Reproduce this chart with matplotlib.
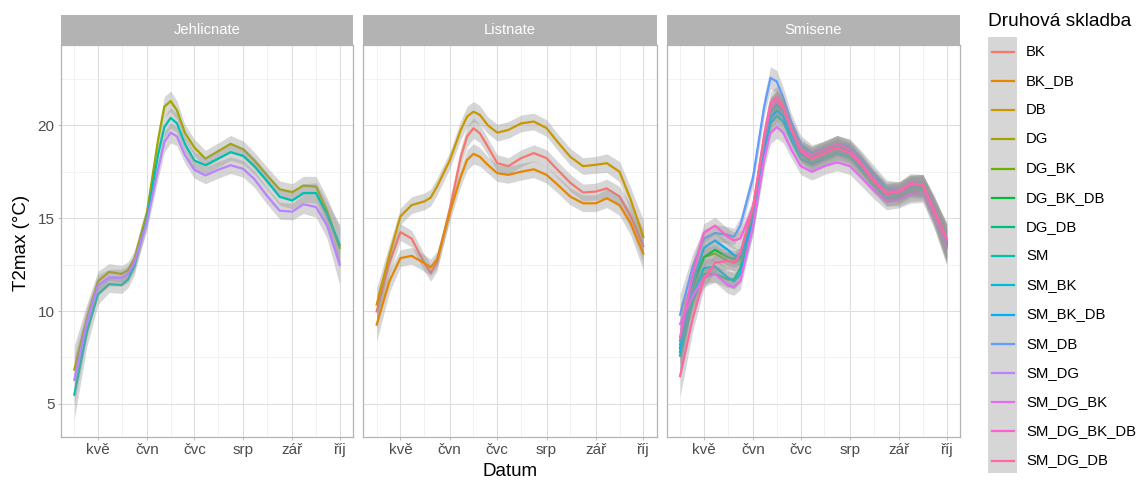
import matplotlib
matplotlib.use("Agg")
import matplotlib.pyplot as plt
import pandas as pd
from matplotlib.lines import Line2D
from matplotlib.patches import Rectangle

plt.rcParams['font.family'] = ['Liberation Sans', 'DejaVu Sans']

# ---------------- data ----------------
dates = ["2021-04-16", "2021-04-24", "2021-05-01", "2021-05-08", "2021-05-16", "2021-05-20",
         "2021-05-24", "2021-06-01", "2021-06-08", "2021-06-12", "2021-06-16", "2021-06-20",
         "2021-06-25", "2021-07-01", "2021-07-08", "2021-07-16", "2021-07-24", "2021-08-01",
         "2021-08-08", "2021-08-16", "2021-08-24", "2021-09-01", "2021-09-08", "2021-09-16",
         "2021-09-23", "2021-10-01"]

categories = ["BK", "BK_DB", "DB", "DG", "DG_BK", "DG_BK_DB", "DG_DB", "SM", "SM_BK",
              "SM_BK_DB", "SM_DB", "SM_DG", "SM_DG_BK", "SM_DG_BK_DB", "SM_DG_DB"]
colors = ["#F8766D", "#E58700", "#C99800", "#A3A500", "#6BB100", "#00BA38", "#00BF7D",
          "#00C0AF", "#00BCD8", "#00B0F6", "#619CFF", "#B983FF", "#E76BF3", "#FD61D1", "#FF67A4"]

facets = ["Jehlicnate", "Listnate", "Smisene"]

# Jehlicnate
DG = [6.85, 9.6, 11.6, 12.1, 12.0, 12.2, 12.8, 15.3, 19.2, 21.0, 21.3, 20.8, 19.6, 18.8, 18.2, 18.6,
      19.0, 18.7, 18.1, 17.3, 16.55, 16.4, 16.75, 16.7, 15.4, 13.4]
SM = [5.5, 8.9, 10.9, 11.45, 11.4, 11.7, 12.4, 15.0, 18.4, 19.9, 20.4, 20.1, 19.0, 18.1, 17.85, 18.2,
      18.55, 18.35, 17.8, 17.0, 16.15, 15.95, 16.35, 16.35, 15.2, 13.55]
SM_DG = [6.3, 9.4, 11.4, 11.8, 11.8, 12.0, 12.6, 14.8, 17.6, 19.1, 19.6, 19.4, 18.4, 17.6, 17.3, 17.6,
         17.85, 17.65, 17.1, 16.2, 15.4, 15.35, 15.75, 15.6, 14.6, 12.5]
se_jehl = [1.3, 0.8, 0.55, 0.45, 0.45, 0.45, 0.45, 0.45, 0.5, 0.55, 0.55, 0.5, 0.45, 0.45, 0.45, 0.45,
           0.45, 0.45, 0.45, 0.45, 0.45, 0.45, 0.5, 0.55, 0.7, 1.1]

# Listnate
BK = [9.98, 12.6, 14.25, 13.9, 12.6, 12.05, 12.6, 15.45, 18.3, 19.4, 19.84, 19.57, 18.85, 17.96, 17.8,
      18.23, 18.5, 18.23, 17.6, 16.9, 16.38, 16.43, 16.6, 16.16, 15.1, 13.5]
BK_DB = [9.27, 11.6, 12.85, 12.97, 12.58, 12.35, 12.76, 15.27, 17.24, 18.14, 18.46, 18.3, 17.87, 17.42,
         17.33, 17.5, 17.63, 17.33, 16.8, 16.16, 15.8, 15.8, 16.07, 15.7, 14.73, 13.1]
DB = [10.35, 13.0, 15.1, 15.7, 15.9, 16.1, 16.7, 18.1, 19.75, 20.47, 20.73, 20.56, 20.0, 19.6, 19.75,
      20.1, 20.2, 19.85, 19.1, 18.3, 17.8, 17.87, 17.96, 17.5, 16.0, 14.0]
se_list = [0.9, 0.6, 0.45, 0.45, 0.45, 0.45, 0.45, 0.45, 0.5, 0.55, 0.55, 0.5, 0.45, 0.45, 0.45, 0.45,
           0.45, 0.45, 0.45, 0.45, 0.45, 0.45, 0.5, 0.55, 0.65, 0.9]

# Smisene
DG_BK = [8.4, 11.4, 12.9, 13.1, 12.7, 12.6, 12.8, 15.2, 19.0, 20.8, 21.3, 21.0, 19.9, 18.8, 18.4, 18.7,
         19.0, 18.8, 18.1, 17.2, 16.5, 16.5, 16.8, 16.8, 15.5, 13.7]
DG_BK_DB = [8.0, 11.2, 12.9, 13.3, 12.9, 12.8, 13.0, 15.3, 19.1, 20.9, 21.2, 20.8, 19.7, 18.6, 18.3,
            18.6, 18.9, 18.6, 17.9, 17.1, 16.4, 16.4, 16.7, 16.7, 15.5, 13.7]
DG_DB = [7.6, 10.5, 12.0, 12.0, 11.7, 11.7, 12.3, 15.0, 18.9, 20.7, 21.1, 20.7, 19.6, 18.5, 18.0, 18.3,
         18.6, 18.4, 17.7, 16.9, 16.1, 16.1, 16.4, 16.5, 15.2, 13.6]
SM_BK = [8.2, 10.9, 12.3, 12.4, 11.8, 11.6, 12.0, 14.6, 18.4, 20.1, 20.5, 20.2, 19.2, 18.2, 17.9, 18.2,
         18.5, 18.3, 17.6, 16.8, 16.1, 16.2, 16.6, 16.6, 15.3, 13.4]
SM_BK_DB = [7.8, 11.6, 13.4, 13.8, 13.3, 13.0, 12.9, 14.8, 18.6, 20.4, 20.8, 20.5, 19.5, 18.5, 18.2,
            18.5, 18.8, 18.6, 17.9, 17.1, 16.3, 16.3, 16.7, 16.7, 15.4, 13.5]
SM_DB = [9.8, 12.4, 13.9, 14.2, 14.1, 14.0, 14.6, 17.2, 21.0, 22.55, 22.35, 21.5, 20.2, 19.0, 18.5, 18.7,
         19.0, 18.8, 18.2, 17.4, 16.6, 16.5, 16.8, 16.8, 15.6, 13.8]
SM_DG_BK = [9.3, 10.8, 11.8, 12.0, 11.4, 11.3, 11.6, 14.6, 18.2, 19.6, 19.9, 19.6, 18.7, 17.8, 17.5,
            17.8, 18.0, 17.8, 17.2, 16.5, 15.9, 16.0, 16.3, 16.4, 15.1, 13.4]
SM_DG_BK_DB = [8.6, 12.0, 14.2, 14.6, 14.0, 13.8, 13.9, 15.6, 19.3, 20.9, 21.3, 20.9, 19.8, 18.7, 18.4,
               18.7, 19.0, 18.7, 18.0, 17.1, 16.4, 16.5, 16.9, 16.8, 15.5, 13.8]
SM_DG_DB = [6.5, 9.6, 11.7, 12.6, 12.7, 12.6, 13.1, 15.6, 19.5, 21.2, 21.5, 21.0, 19.8, 18.6, 18.2,
            18.5, 18.8, 18.5, 17.9, 17.0, 16.3, 16.4, 16.8, 16.8, 15.4, 13.9]
se_smis = [1.1, 0.7, 0.5, 0.45, 0.45, 0.45, 0.45, 0.45, 0.55, 0.6, 0.6, 0.55, 0.45, 0.45, 0.45, 0.45,
           0.45, 0.45, 0.45, 0.45, 0.45, 0.45, 0.5, 0.55, 0.65, 0.9]

panel_series = {
    "Jehlicnate": ({"DG": DG, "SM": SM, "SM_DG": SM_DG}, se_jehl),
    "Listnate": ({"BK": BK, "BK_DB": BK_DB, "DB": DB}, se_list),
    "Smisene": ({"DG_BK": DG_BK, "DG_BK_DB": DG_BK_DB, "DG_DB": DG_DB, "SM_BK": SM_BK,
                 "SM_BK_DB": SM_BK_DB, "SM_DB": SM_DB, "SM_DG_BK": SM_DG_BK,
                 "SM_DG_BK_DB": SM_DG_BK_DB, "SM_DG_DB": SM_DG_DB}, se_smis),
}

month_ticks = ["2021-05-01", "2021-06-01", "2021-07-01", "2021-08-01", "2021-09-01", "2021-10-01"]
month_labels = ["kvě", "čvn", "čvc", "srp", "zář", "říj"]
minor_ticks = ["2021-04-16", "2021-05-16", "2021-06-16", "2021-07-16", "2021-08-16", "2021-09-16"]
y_ticks = [5, 10, 15, 20]
y_minor = [7.5, 12.5, 17.5, 22.5]

# ---------------- layout ----------------
W, H = 1141, 482
fig = plt.figure(figsize=(W / 100, H / 100), dpi=100)


def fx(x):
    return x / W


def fy(y):
    return 1 - y / H


panel_px = [(61, 353), (363.3, 656.7), (666.7, 960)]
p_top, p_bot, s_top = 45, 437, 15

x = pd.to_datetime(dates)
color_of = dict(zip(categories, colors))
xlim = (pd.Timestamp("2021-04-07 14:00"), pd.Timestamp("2021-10-09 10:00"))

for i, (name, (l, r)) in enumerate(zip(facets, panel_px)):
    ax = fig.add_axes([fx(l), fy(p_bot), (r - l) / W, (p_bot - p_top) / H])
    series, se = panel_series[name]
    z = 3
    for cat in categories:
        if cat not in series:
            continue
        vals = series[cat]
        lo = [v - s for v, s in zip(vals, se)]
        hi = [v + s for v, s in zip(vals, se)]
        ax.fill_between(x, lo, hi, color="#999999", alpha=0.4, linewidth=0, zorder=z)
        ax.plot(x, vals, color=color_of[cat], lw=1.6, zorder=z + 0.5, solid_joinstyle="round")
        z += 1
    ax.set_xlim(*xlim)
    ax.set_ylim(3.22, 24.32)
    ax.set_xticks(pd.to_datetime(month_ticks))
    ax.set_xticklabels(month_labels)
    ax.set_xticks(pd.to_datetime(minor_ticks), minor=True)
    ax.set_yticks(y_ticks)
    ax.set_yticks(y_minor, minor=True)
    ax.grid(which="major", color="#DEDEDE", lw=0.8, zorder=0)
    ax.grid(which="minor", color="#EDEDED", lw=0.5, zorder=0)
    ax.set_axisbelow(True)
    for sp in ax.spines.values():
        sp.set_color("#B3B3B3")
        sp.set_linewidth(0.9)
        sp.set_zorder(50)
    ax.tick_params(which="major", length=2.5, color="#B3B3B3", labelsize=11,
                   labelcolor="#4D4D4D", pad=2.0, width=0.6)
    ax.tick_params(which="minor", length=0)
    if i > 0:
        ax.tick_params(axis="y", which="both", labelleft=False, length=0)
    # strip
    fig.add_artist(Rectangle((fx(l), fy(p_top)), (r - l) / W, (p_top - s_top) / H,
                             transform=fig.transFigure, facecolor="#B3B3B3", edgecolor="none"))
    fig.text(fx((l + r) / 2), fy((p_top + s_top) / 2), name, color="white", fontsize=10.6,
             ha="center", va="center")

# axis titles
fig.text(fx(22), fy(243), "T2max (°C)", rotation=90, ha="center", va="center",
         fontsize=13.5)
fig.text(fx((61 + 960) / 2), fy(472), "Datum", ha="center", va="center", fontsize=13.5)

# legend
fig.text(fx(988), fy(21), "Druhová skladba", ha="left", va="center", fontsize=13.8)
fig.add_artist(Rectangle((fx(988), fy(473)), 29 / W, (473 - 37) / H, transform=fig.transFigure,
                         facecolor="#D6D6D6", edgecolor="none"))
for k, (cat, col) in enumerate(zip(categories, colors)):
    yy = 51.7 + k * 29.2
    fig.add_artist(Line2D([fx(991.5), fx(1013.5)], [fy(yy), fy(yy)], color=col, lw=1.6,
                          transform=fig.transFigure))
    fig.text(fx(1026), fy(yy), cat, ha="left", va="center", fontsize=10.7, color="black")

fig.savefig("out.png", dpi=100)
